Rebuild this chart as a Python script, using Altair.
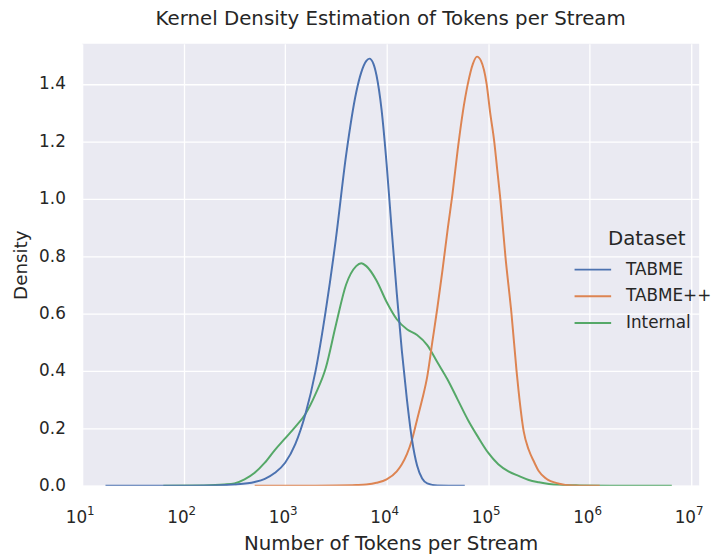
import altair as alt
import pandas as pd

# Values (x as log10 of tokens per stream, y as density)
tabme_exp = [1.23, 2.0, 2.3, 2.5, 2.7, 2.8, 2.9, 3.0, 3.1, 3.2, 3.3, 3.4, 3.5, 3.6, 3.7, 3.75, 3.8, 3.83, 3.87,
             3.9, 3.95, 4.0, 4.05, 4.1, 4.15, 4.2, 4.25, 4.3, 4.35, 4.4, 4.5, 4.77]
tabme_density = [0.0, 0.0, 0.001, 0.004, 0.013, 0.024, 0.045, 0.08, 0.145, 0.25, 0.40, 0.61, 0.86, 1.15, 1.37,
                 1.44, 1.48, 1.488, 1.47, 1.43, 1.31, 1.12, 0.89, 0.67, 0.47, 0.30, 0.16, 0.07, 0.025, 0.008,
                 0.001, 0.0]

tabmepp_exp = [2.7, 3.3, 3.5, 3.7, 3.8, 3.9, 4.0, 4.1, 4.15, 4.2, 4.25, 4.3, 4.35, 4.4, 4.45, 4.5, 4.55, 4.6,
               4.65, 4.7, 4.75, 4.8, 4.85, 4.89, 4.93, 4.985, 5.02, 5.06, 5.09, 5.12, 5.17, 5.23, 5.28, 5.3,
               5.35, 5.4, 5.45, 5.5, 5.57, 5.7, 5.83, 6.0, 6.1]
tabmepp_density = [0.0, 0.0002, 0.0005, 0.002, 0.004, 0.01, 0.022, 0.05, 0.075, 0.11, 0.16, 0.23, 0.30, 0.38,
                   0.50, 0.62, 0.75, 0.89, 1.02, 1.17, 1.30, 1.40, 1.47, 1.495, 1.48, 1.40, 1.30, 1.20, 1.10,
                   1.00, 0.80, 0.60, 0.40, 0.33, 0.19, 0.125, 0.085, 0.05, 0.025, 0.007, 0.001, 0.0, 0.0]

internal_exp = [1.8, 2.2, 2.4, 2.5, 2.6, 2.7, 2.8, 2.9, 3.0, 3.1, 3.2, 3.3, 3.4, 3.5, 3.6, 3.7, 3.75, 3.8, 3.9,
                4.0, 4.1, 4.2, 4.3, 4.4, 4.5, 4.6, 4.7, 4.8, 4.9, 5.0, 5.1, 5.2, 5.3, 5.4, 5.5, 5.6, 5.7, 5.9,
                6.2, 6.81]
internal_density = [0.0, 0.001, 0.004, 0.008, 0.022, 0.045, 0.08, 0.125, 0.165, 0.205, 0.25, 0.32, 0.41, 0.56,
                    0.70, 0.765, 0.775, 0.765, 0.715, 0.64, 0.58, 0.545, 0.525, 0.49, 0.43, 0.37, 0.30, 0.23,
                    0.17, 0.115, 0.075, 0.05, 0.034, 0.02, 0.012, 0.006, 0.003, 0.001, 0.0, 0.0]

datasets = ["TABME", "TABME++", "Internal"]
colors = ["#4C72B0", "#DD8452", "#55A868"]
x_ticks = [10, 100, 1000, 10000, 100000, 1000000, 10000000]
x_tick_exponents = ["1", "2", "3", "4", "5", "6", "7"]
y_ticks = [0.0, 0.2, 0.4, 0.6, 0.8, 1.0, 1.2, 1.4]

rows = []
for name, exps, dens in [("TABME", tabme_exp, tabme_density),
                         ("TABME++", tabmepp_exp, tabmepp_density),
                         ("Internal", internal_exp, internal_density)]:
    for e, d in zip(exps, dens):
        rows.append({"Dataset": name, "tokens": 10 ** e, "density": d})
df = pd.DataFrame(rows)
ticks_df = pd.DataFrame({"tokens": x_ticks, "base": ["10"] * len(x_ticks), "exp": x_tick_exponents})

font = "DejaVu Sans"
text_color = "#262626"
H = 447

x_scale = alt.Scale(type="log", domain=[10, 12000000], nice=False)
x_enc = alt.X("tokens:Q", scale=x_scale,
              axis=alt.Axis(values=x_ticks, labels=False, title="Number of Tokens per Stream",
                            titleFontSize=20, titlePadding=49))
y_enc = alt.Y("density:Q",
              scale=alt.Scale(domain=[0, 1.54], nice=False, zero=True),
              axis=alt.Axis(values=y_ticks, format=".1f", title="Density",
                            labelFontSize=17, titleFontSize=18.5, labelPadding=17, titlePadding=8))
c_enc = alt.Color("Dataset:N",
                  scale=alt.Scale(domain=datasets, range=colors),
                  legend=alt.Legend(orient="none", legendX=506, legendY=188, title="Dataset",
                                    titleFontSize=20, labelFontSize=17, titleAnchor="middle",
                                    symbolType="M-2,0H2", symbolSize=342, symbolStrokeWidth=2,
                                    rowPadding=8, labelOffset=23, titlePadding=10,
                                    titleFontWeight="normal", titleColor=text_color, labelColor=text_color))

layers = []
for name in ["Internal", "TABME++", "TABME"]:
    layers.append(
        alt.Chart(df).transform_filter(alt.datum.Dataset == name)
        .mark_line(strokeWidth=2, interpolate="monotone", clip=True)
        .encode(x=x_enc, y=y_enc, color=c_enc)
    )

base_labels = alt.Chart(ticks_df).mark_text(
    align="right", baseline="alphabetic", dx=5, fontSize=17, font=font, color=text_color
).encode(x=alt.X("tokens:Q", scale=x_scale), y=alt.value(H + 38), text="base:N")
exp_labels = alt.Chart(ticks_df).mark_text(
    align="left", baseline="alphabetic", dx=5, fontSize=12, font=font, color=text_color
).encode(x=alt.X("tokens:Q", scale=x_scale), y=alt.value(H + 30), text="exp:N")
layers += [base_labels, exp_labels]

chart = alt.layer(*layers).properties(
    width=624, height=H,
    title=alt.TitleParams("Kernel Density Estimation of Tokens per Stream", fontSize=20,
                          font=font, fontWeight="normal", color=text_color, offset=15),
    autosize=alt.AutoSizeParams(type="none"),
    padding={"left": 75, "top": 33, "right": 13, "bottom": 67},
).configure_view(
    fill="#EAEAF2", stroke=None
).configure_axis(
    domain=False, ticks=False, grid=True, gridColor="white", gridWidth=1.3,
    labelFont=font, titleFont=font, labelColor=text_color, titleColor=text_color,
    titleFontWeight="normal"
).configure_legend(
    labelFont=font, titleFont=font
)

chart.save("out.html", embed_options={"renderer": "svg", "actions": False})
